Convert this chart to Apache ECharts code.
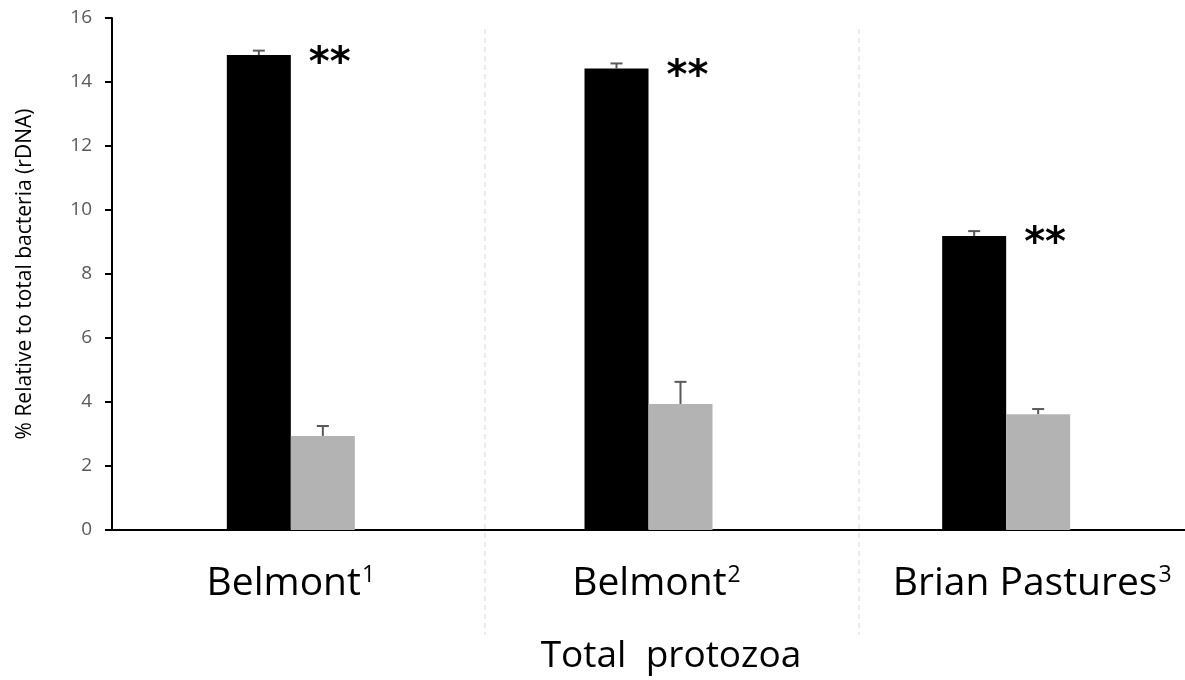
<!DOCTYPE html>
<html>
<head>
<meta charset="utf-8">
<script src="https://cdn.jsdelivr.net/npm/echarts@6/dist/echarts.min.js"></script>
<style>
html,body{margin:0;padding:0;background:#fff;}
#chart{width:1185px;height:680px;}
</style>
</head>
<body>
<div id="chart"></div>
<script>
var categories = ['Belmont', 'Belmont', 'Brian Pastures'];
var superscripts = ['1', '2', '3'];
var seriesA = [14.84, 14.42, 9.19];
var seriesAErr = [14.98, 14.58, 9.34];
var seriesB = [2.94, 3.94, 3.62];
var seriesBErr = [3.25, 4.63, 3.78];
var sigLabels = ['**', '**', '**'];
var yTicks = {min: 0, max: 16, interval: 2};

var chart = echarts.init(document.getElementById('chart'));

function errSeries(vals, tops, side) {
  return {
    type: 'custom',
    z: 5,
    data: vals.map(function (v, i) { return [i, v, tops[i]]; }),
    renderItem: function (params, api) {
      var base = api.coord([api.value(0), api.value(1)]);
      var top = api.coord([api.value(0), api.value(2)]);
      var x = base[0] + side * 32;
      var style = {stroke: '#595959', lineWidth: 2};
      return {
        type: 'group',
        children: [
          {type: 'line', shape: {x1: x, y1: base[1], x2: x, y2: top[1]}, style: style},
          {type: 'line', shape: {x1: x - 6, y1: top[1], x2: x + 6, y2: top[1]}, style: style}
        ]
      };
    }
  };
}

var labelShift = [0, 16, 52];
var rich = {};
[0, 1, 2].forEach(function (i) {
  rich['m' + i] = {fontFamily: 'Open Sans', fontSize: 39, color: '#000', padding: [0, 0, 0, labelShift[i]]};
});
rich.s = {fontFamily: 'Open Sans', fontSize: 23, color: '#000', verticalAlign: 'top', padding: [0, 0, 14, 1]};

var option = {
  animation: false,
  backgroundColor: '#fff',
  grid: {left: 112, top: 18, width: 1075, height: 512},
  xAxis: {
    type: 'category',
    data: categories,
    name: 'Total  protozoa',
    nameLocation: 'middle',
    nameGap: 108,
    nameTextStyle: {fontFamily: 'Open Sans', fontSize: 37, color: '#000', padding: [0, 0, 0, 45]},
    axisLine: {lineStyle: {color: '#000', width: 2}},
    axisTick: {show: false},
    axisLabel: {
      margin: 34,
      formatter: function (v, i) { return '{m' + i + '|' + v + '}{s|' + superscripts[i] + '}'; },
      rich: rich
    },
    splitLine: {show: false}
  },
  yAxis: {
    type: 'value',
    min: yTicks.min, max: yTicks.max, interval: yTicks.interval,
    name: '% Relative to total bacteria (rDNA)',
    nameLocation: 'middle',
    nameGap: 76,
    nameTextStyle: {fontFamily: 'Open Sans', fontSize: 21, color: '#000'},
    axisLine: {show: true, lineStyle: {color: '#000', width: 2}},
    axisTick: {show: true, length: 7, lineStyle: {color: '#000', width: 2}},
    axisLabel: {fontFamily: 'Open Sans', fontSize: 19, color: '#595959', margin: 20},
    splitLine: {show: false}
  },
  graphic: [
    {type: 'line', shape: {x1: 485, y1: 29, x2: 485, y2: 635}, style: {stroke: '#d9d9d9', lineWidth: 1, lineDash: [5, 4]}, z: 0},
    {type: 'line', shape: {x1: 859, y1: 29, x2: 859, y2: 635}, style: {stroke: '#d9d9d9', lineWidth: 1, lineDash: [5, 4]}, z: 0}
  ],
  series: [
    {
      type: 'bar',
      data: seriesA,
      barWidth: 64,
      barGap: '0%',
      itemStyle: {color: '#000'},
      label: {
        show: true,
        position: [82, 9],
        align: 'left',
        verticalAlign: 'middle',
        formatter: function (p) { return sigLabels[p.dataIndex]; },
        fontFamily: 'DejaVu Sans',
        fontWeight: 'bold',
        fontSize: 40,
        color: '#000'
      }
    },
    {
      type: 'bar',
      data: seriesB,
      barWidth: 64,
      barGap: '0%',
      itemStyle: {color: '#b3b3b3'}
    },
    errSeries(seriesA, seriesAErr, -1),
    errSeries(seriesB, seriesBErr, 1)
  ]
};
chart.setOption(option);
</script>
</body>
</html>
